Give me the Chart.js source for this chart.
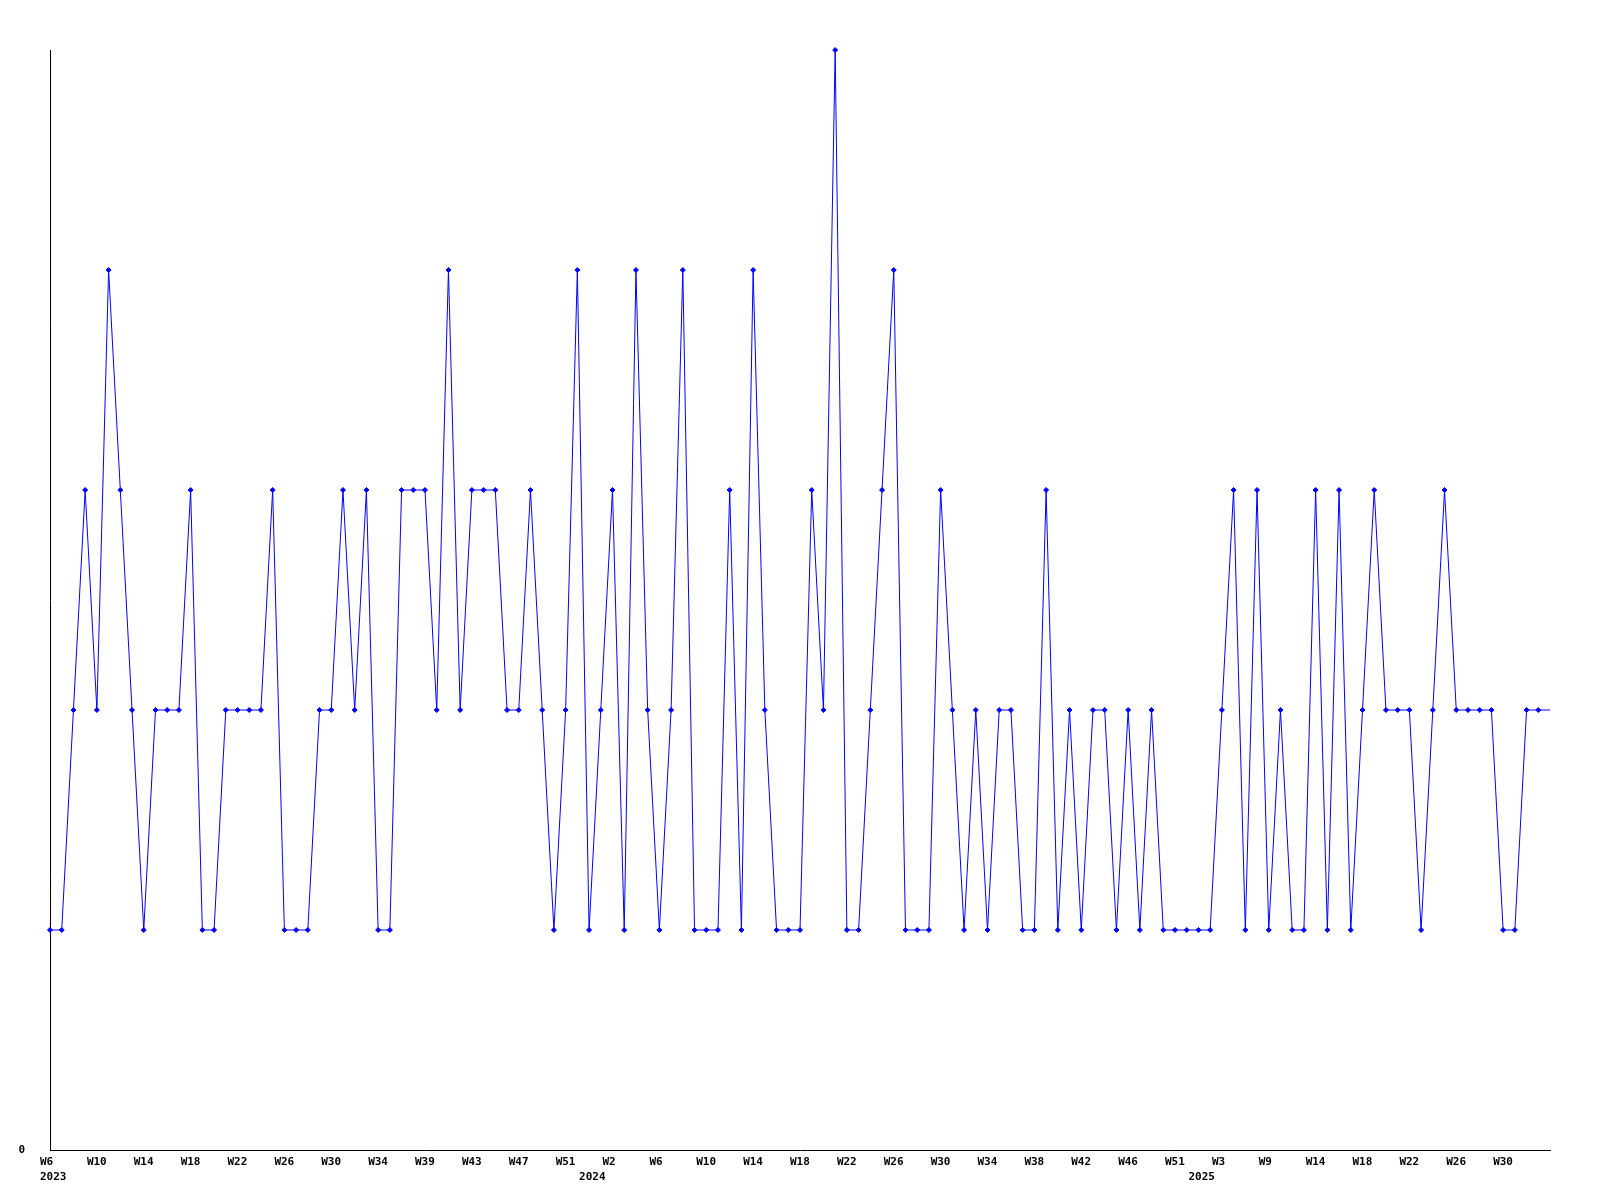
<!DOCTYPE html>
<html>
<head>
<meta charset="utf-8">
<script src="https://cdn.jsdelivr.net/npm/chart.js@4/dist/chart.umd.min.js"></script>
<style>
  html, body { margin: 0; padding: 0; background: #ffffff; }
  #wrap { width: 1600px; height: 1200px; }
</style>
</head>
<body>
<div id="wrap"><canvas id="c" width="1600" height="1200"></canvas></div>
<script>
// Weekly counts, one per week (129 weeks, 2023 W6 .. 2025)
const values = [
  1,1,2,3,2,4,3,2,1,2,
  2,2,3,1,1,2,2,2,2,3,
  1,1,1,2,2,3,2,3,1,1,
  3,3,3,2,4,2,3,3,3,2,
  2,3,2,1,2,4,1,2,3,1,
  4,2,1,2,4,1,1,1,3,1,
  4,2,1,1,1,3,2,5,1,1,
  2,3,4,1,1,1,3,2,1,2,
  1,2,2,1,1,3,1,2,1,2,
  2,1,2,1,2,1,1,1,1,1,
  2,3,1,3,1,2,1,1,3,1,
  3,1,2,3,2,2,2,1,2,3,
  2,2,2,2,1,1,2,2,2
];

// Week tick labels, one every 4th week
const tickLabels = [
  'W6','W10','W14','W18','W22','W26','W30','W34','W39','W43','W47','W51',
  'W2','W6','W10','W14','W18','W22','W26','W30','W34','W38','W42','W46','W51',
  'W3','W9','W14','W18','W22','W26','W30'
];
const tickEvery = 4;

// Year labels and the week index where each year starts
const yearLabels = ['2023', '2024', '2025'];
const yearIndex = [0, 46, 98];

// Y axis tick labels
const yTickValues = [0];
const yMax = 5;

const categories = values.map((_, i) => String(i));

function labelFor(i) {
  const week = (i % tickEvery === 0 && tickLabels[i / tickEvery] !== undefined) ? tickLabels[i / tickEvery] : '';
  const yi = yearIndex.indexOf(i);
  const year = yi >= 0 ? yearLabels[yi] : '';
  if (!week && !year) return '';
  if (year) return [week, year];
  return [week];
}

const blue = '#0000ff';
const tickFont = { family: 'DejaVu Sans Mono', size: 11, weight: 'bold', lineHeight: 15 / 11 };

new Chart(document.getElementById('c'), {
  type: 'line',
  data: {
    labels: categories,
    datasets: [{
      data: values,
      borderColor: blue,
      backgroundColor: blue,
      borderWidth: 1,
      tension: 0,
      fill: false,
      pointStyle: 'rectRot',
      pointRadius: values.map((_, i) => i === values.length - 1 ? 0 : 2.5),
      pointBorderWidth: 1,
      pointBackgroundColor: blue,
      pointBorderColor: blue,
      clip: false
    }]
  },
  options: {
    responsive: false,
    animation: false,
    layout: { padding: { top: 50, right: 50, bottom: 0, left: 0 } },
    plugins: {
      legend: { display: false },
      tooltip: { enabled: false },
      title: { display: false }
    },
    scales: {
      x: {
        type: 'category',
        offset: false,
        grid: { display: false, drawTicks: false },
        border: { display: true, color: '#000000', width: 1 },
        ticks: {
          autoSkip: false,
          maxRotation: 0,
          minRotation: 0,
          align: 'start',
          labelOffset: -10,
          padding: 5,
          color: '#000000',
          font: tickFont,
          callback: (value, index) => labelFor(index)
        },
        afterFit: (scale) => { scale.height = 50; }
      },
      y: {
        min: 0,
        max: yMax,
        grid: { display: false, drawTicks: false },
        border: { display: true, color: '#000000', width: 1 },
        ticks: {
          padding: 25,
          color: '#000000',
          font: tickFont,
          callback: (v) => String(v)
        },
        afterBuildTicks: (scale) => { scale.ticks = yTickValues.map(v => ({ value: v })); },
        afterFit: (scale) => { scale.width = 50; }
      }
    }
  }
});
</script>
</body>
</html>
